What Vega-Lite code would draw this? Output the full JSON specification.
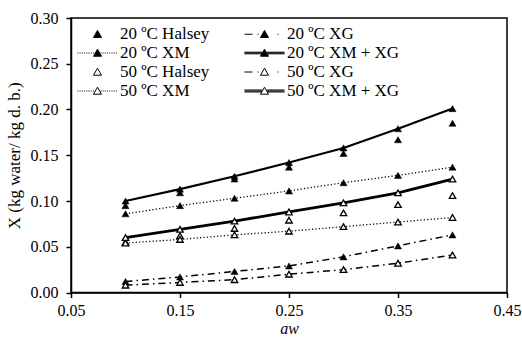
{
  "$schema": "https://vega.github.io/schema/vega-lite/v6.json",
  "width": 436,
  "height": 274.5,
  "autosize": "none",
  "padding": {"left": 71, "top": 18, "right": 15, "bottom": 45.5},
  "background": "white",
  "data": {"values": [
    {"aw": 0.10, "X": 0.095, "temp": 20, "model": "Halsey", "series": "20 ºC Halsey"},
    {"aw": 0.15, "X": 0.109, "temp": 20, "model": "Halsey", "series": "20 ºC Halsey"},
    {"aw": 0.20, "X": 0.124, "temp": 20, "model": "Halsey", "series": "20 ºC Halsey"},
    {"aw": 0.25, "X": 0.137, "temp": 20, "model": "Halsey", "series": "20 ºC Halsey"},
    {"aw": 0.30, "X": 0.152, "temp": 20, "model": "Halsey", "series": "20 ºC Halsey"},
    {"aw": 0.35, "X": 0.167, "temp": 20, "model": "Halsey", "series": "20 ºC Halsey"},
    {"aw": 0.40, "X": 0.185, "temp": 20, "model": "Halsey", "series": "20 ºC Halsey"},
    {"aw": 0.10, "X": 0.086, "temp": 20, "model": "XM", "series": "20 ºC XM"},
    {"aw": 0.15, "X": 0.095, "temp": 20, "model": "XM", "series": "20 ºC XM"},
    {"aw": 0.20, "X": 0.103, "temp": 20, "model": "XM", "series": "20 ºC XM"},
    {"aw": 0.25, "X": 0.111, "temp": 20, "model": "XM", "series": "20 ºC XM"},
    {"aw": 0.30, "X": 0.120, "temp": 20, "model": "XM", "series": "20 ºC XM"},
    {"aw": 0.35, "X": 0.128, "temp": 20, "model": "XM", "series": "20 ºC XM"},
    {"aw": 0.40, "X": 0.137, "temp": 20, "model": "XM", "series": "20 ºC XM"},
    {"aw": 0.10, "X": 0.012, "temp": 20, "model": "XG", "series": "20 ºC XG"},
    {"aw": 0.15, "X": 0.017, "temp": 20, "model": "XG", "series": "20 ºC XG"},
    {"aw": 0.20, "X": 0.023, "temp": 20, "model": "XG", "series": "20 ºC XG"},
    {"aw": 0.25, "X": 0.029, "temp": 20, "model": "XG", "series": "20 ºC XG"},
    {"aw": 0.30, "X": 0.039, "temp": 20, "model": "XG", "series": "20 ºC XG"},
    {"aw": 0.35, "X": 0.051, "temp": 20, "model": "XG", "series": "20 ºC XG"},
    {"aw": 0.40, "X": 0.063, "temp": 20, "model": "XG", "series": "20 ºC XG"},
    {"aw": 0.10, "X": 0.100, "temp": 20, "model": "XM + XG", "series": "20 ºC XM + XG"},
    {"aw": 0.15, "X": 0.113, "temp": 20, "model": "XM + XG", "series": "20 ºC XM + XG"},
    {"aw": 0.20, "X": 0.127, "temp": 20, "model": "XM + XG", "series": "20 ºC XM + XG"},
    {"aw": 0.25, "X": 0.142, "temp": 20, "model": "XM + XG", "series": "20 ºC XM + XG"},
    {"aw": 0.30, "X": 0.158, "temp": 20, "model": "XM + XG", "series": "20 ºC XM + XG"},
    {"aw": 0.35, "X": 0.179, "temp": 20, "model": "XM + XG", "series": "20 ºC XM + XG"},
    {"aw": 0.40, "X": 0.201, "temp": 20, "model": "XM + XG", "series": "20 ºC XM + XG"},
    {"aw": 0.10, "X": 0.055, "temp": 50, "model": "Halsey", "series": "50 ºC Halsey"},
    {"aw": 0.15, "X": 0.062, "temp": 50, "model": "Halsey", "series": "50 ºC Halsey"},
    {"aw": 0.20, "X": 0.070, "temp": 50, "model": "Halsey", "series": "50 ºC Halsey"},
    {"aw": 0.25, "X": 0.079, "temp": 50, "model": "Halsey", "series": "50 ºC Halsey"},
    {"aw": 0.30, "X": 0.087, "temp": 50, "model": "Halsey", "series": "50 ºC Halsey"},
    {"aw": 0.35, "X": 0.096, "temp": 50, "model": "Halsey", "series": "50 ºC Halsey"},
    {"aw": 0.40, "X": 0.106, "temp": 50, "model": "Halsey", "series": "50 ºC Halsey"},
    {"aw": 0.10, "X": 0.054, "temp": 50, "model": "XM", "series": "50 ºC XM"},
    {"aw": 0.15, "X": 0.058, "temp": 50, "model": "XM", "series": "50 ºC XM"},
    {"aw": 0.20, "X": 0.063, "temp": 50, "model": "XM", "series": "50 ºC XM"},
    {"aw": 0.25, "X": 0.067, "temp": 50, "model": "XM", "series": "50 ºC XM"},
    {"aw": 0.30, "X": 0.072, "temp": 50, "model": "XM", "series": "50 ºC XM"},
    {"aw": 0.35, "X": 0.077, "temp": 50, "model": "XM", "series": "50 ºC XM"},
    {"aw": 0.40, "X": 0.082, "temp": 50, "model": "XM", "series": "50 ºC XM"},
    {"aw": 0.10, "X": 0.008, "temp": 50, "model": "XG", "series": "50 ºC XG"},
    {"aw": 0.15, "X": 0.011, "temp": 50, "model": "XG", "series": "50 ºC XG"},
    {"aw": 0.20, "X": 0.014, "temp": 50, "model": "XG", "series": "50 ºC XG"},
    {"aw": 0.25, "X": 0.020, "temp": 50, "model": "XG", "series": "50 ºC XG"},
    {"aw": 0.30, "X": 0.025, "temp": 50, "model": "XG", "series": "50 ºC XG"},
    {"aw": 0.35, "X": 0.032, "temp": 50, "model": "XG", "series": "50 ºC XG"},
    {"aw": 0.40, "X": 0.041, "temp": 50, "model": "XG", "series": "50 ºC XG"},
    {"aw": 0.10, "X": 0.060, "temp": 50, "model": "XM + XG", "series": "50 ºC XM + XG"},
    {"aw": 0.15, "X": 0.069, "temp": 50, "model": "XM + XG", "series": "50 ºC XM + XG"},
    {"aw": 0.20, "X": 0.078, "temp": 50, "model": "XM + XG", "series": "50 ºC XM + XG"},
    {"aw": 0.25, "X": 0.088, "temp": 50, "model": "XM + XG", "series": "50 ºC XM + XG"},
    {"aw": 0.30, "X": 0.098, "temp": 50, "model": "XM + XG", "series": "50 ºC XM + XG"},
    {"aw": 0.35, "X": 0.109, "temp": 50, "model": "XM + XG", "series": "50 ºC XM + XG"},
    {"aw": 0.40, "X": 0.124, "temp": 50, "model": "XM + XG", "series": "50 ºC XM + XG"}
  ]},
  "encoding": {
    "x": {"field": "aw", "type": "quantitative",
      "scale": {"domain": [0.05, 0.45], "nice": false, "zero": false},
      "axis": {"values": [0.05, 0.15, 0.25, 0.35, 0.45], "format": ".2f", "title": "aw", "titleFontStyle": "italic", "titleFontSize": 16, "labelPadding": 5, "titleY": 41, "titleBaseline": "alphabetic", "labelFlush": false, "labelOverlap": false}},
    "y": {"field": "X", "type": "quantitative",
      "scale": {"domain": [0, 0.3], "nice": false},
      "axis": {"values": [0, 0.05, 0.1, 0.15, 0.2, 0.25, 0.3], "format": ".2f", "title": "X (kg water/ kg d. b.)", "labelPadding": 8, "titlePadding": 7, "labelFlush": false, "labelOverlap": false}}
  },
  "layer": [
    {"transform": [{"filter": "datum.model == 'XM'"}],
     "mark": {"type": "line", "color": "black", "strokeWidth": 1.3, "strokeDash": [1.2, 2.2]},
     "encoding": {"detail": {"field": "temp"}}},
    {"transform": [{"filter": "datum.model == 'XG'"}],
     "mark": {"type": "line", "color": "black", "strokeWidth": 1.5, "strokeDash": [7, 4, 1.5, 4]},
     "encoding": {"detail": {"field": "temp"}}},
    {"transform": [{"filter": "datum.model == 'XM + XG' && datum.temp == 20"}],
     "mark": {"type": "line", "color": "black", "strokeWidth": 2.1},
     "encoding": {}},
    {"transform": [{"filter": "datum.model == 'XM + XG' && datum.temp == 50"}],
     "mark": {"type": "line", "color": "black", "strokeWidth": 2.8},
     "encoding": {}},
    {"transform": [{"filter": "datum.temp == 20"}],
     "mark": {"type": "point", "shape": "triangle-up", "filled": true, "fill": "black", "stroke": "black", "strokeWidth": 0.5, "size": 50, "opacity": 1},
     "encoding": {}},
    {"transform": [{"filter": "datum.temp == 50"}],
     "mark": {"type": "point", "shape": "triangle-up", "fill": "white", "stroke": "black", "strokeWidth": 1.3, "size": 42, "opacity": 1},
     "encoding": {}},
    {"mark": {"type": "point", "opacity": 0, "filled": true},
     "encoding": {
       "shape": {"field": "series", "type": "nominal",
         "scale": {"domain": ["20 ºC Halsey", "20 ºC XM", "50 ºC Halsey", "50 ºC XM", "20 ºC XG", "20 ºC XM + XG", "50 ºC XG", "50 ºC XM + XG"],
           "range": [
             "M1.222,-0.422L1.667,0.356L0.778,0.356Z",
             "M-1,0h0.11M-0.756,0h0.11M-0.511,0h0.11M-0.267,0h0.11M-0.022,0h0.11M0.222,0h0.11M0.467,0h0.11M0.711,0h0.11M1.556,0h0.11M1.8,0h0.11M2.044,0h0.11M2.289,0h0.11M2.533,0h0.11M2.778,0h0.11M3.022,0h0.11M3.267,0h0.11M1.222,-0.422L1.667,0.356L0.778,0.356Z",
             "M1.222,-0.422L1.667,0.356L0.778,0.356Z",
             "M-1,0h0.11M-0.756,0h0.11M-0.511,0h0.11M-0.267,0h0.11M-0.022,0h0.11M0.222,0h0.11M0.467,0h0.11M0.711,0h0.11M1.556,0h0.11M1.8,0h0.11M2.044,0h0.11M2.289,0h0.11M2.533,0h0.11M2.778,0h0.11M3.022,0h0.11M3.267,0h0.11M1.222,-0.422L1.667,0.356L0.778,0.356Z",
             "M-1,0H-0.111M0.444,0h0.12M2.667,0h0.12M1.222,-0.422L1.667,0.356L0.778,0.356Z",
             "M-1,-0.089H0.944M-1,0H0.944M-1,0.089H0.944M1.5,-0.089H3.444M1.5,0H3.444M1.5,0.089H3.444M1.222,-0.422L1.667,0.356L0.778,0.356Z",
             "M-1,0H-0.111M0.444,0h0.12M2.667,0h0.12M1.222,-0.422L1.667,0.356L0.778,0.356Z",
             "M-1,-0.111H0.944M-1,0H0.944M-1,0.111H0.944M1.5,-0.111H3.444M1.5,0H3.444M1.5,0.111H3.444M1.222,-0.422L1.667,0.356L0.778,0.356Z"
           ]},
         "legend": {"orient": "none", "legendX": 6, "legendY": 6.5, "columns": 2, "title": null, "symbolSize": 324, "symbolStrokeColor": "black", "symbolStrokeWidth": 1, "symbolOpacity": 1, "labelFont": "Liberation Serif", "labelFontSize": 17, "labelColor": "black", "labelOffset": 24, "columnPadding": 32, "rowPadding": 1, "labelLimit": 300}},
       "fill": {"field": "series", "type": "nominal",
         "scale": {"domain": ["20 ºC Halsey", "20 ºC XM", "50 ºC Halsey", "50 ºC XM", "20 ºC XG", "20 ºC XM + XG", "50 ºC XG", "50 ºC XM + XG"],
           "range": ["black", "black", "white", "white", "black", "black", "white", "white"]},
         "legend": {"orient": "none", "legendX": 6, "legendY": 6.5, "columns": 2, "title": null, "symbolSize": 324, "symbolStrokeColor": "black", "symbolStrokeWidth": 1, "symbolOpacity": 1, "labelFont": "Liberation Serif", "labelFontSize": 17, "labelColor": "black", "labelOffset": 24, "columnPadding": 32, "rowPadding": 1, "labelLimit": 300}},
       "stroke": {"field": "series", "type": "nominal",
         "scale": {"domain": ["20 ºC Halsey", "20 ºC XM", "50 ºC Halsey", "50 ºC XM", "20 ºC XG", "20 ºC XM + XG", "50 ºC XG", "50 ºC XM + XG"],
           "range": ["black", "black", "black", "black", "black", "black", "black", "black"]},
         "legend": {"orient": "none", "legendX": 6, "legendY": 6.5, "columns": 2, "title": null, "symbolSize": 324, "symbolStrokeColor": "black", "symbolStrokeWidth": 1, "symbolOpacity": 1, "labelFont": "Liberation Serif", "labelFontSize": 17, "labelColor": "black", "labelOffset": 24, "columnPadding": 32, "rowPadding": 1, "labelLimit": 300}}
     }}
  ],
  "config": {
    "font": "Liberation Serif",
    "view": {"stroke": "black", "strokeWidth": 1.5},
    "axis": {"grid": false, "domainColor": "black", "domainWidth": 1.5, "tickColor": "black", "tickWidth": 1.5, "tickSize": 5, "labelFont": "Liberation Serif", "labelFontSize": 16, "labelColor": "black", "titleFont": "Liberation Serif", "titleFontSize": 17, "titleFontWeight": "normal", "titleColor": "black"}
  }
}
